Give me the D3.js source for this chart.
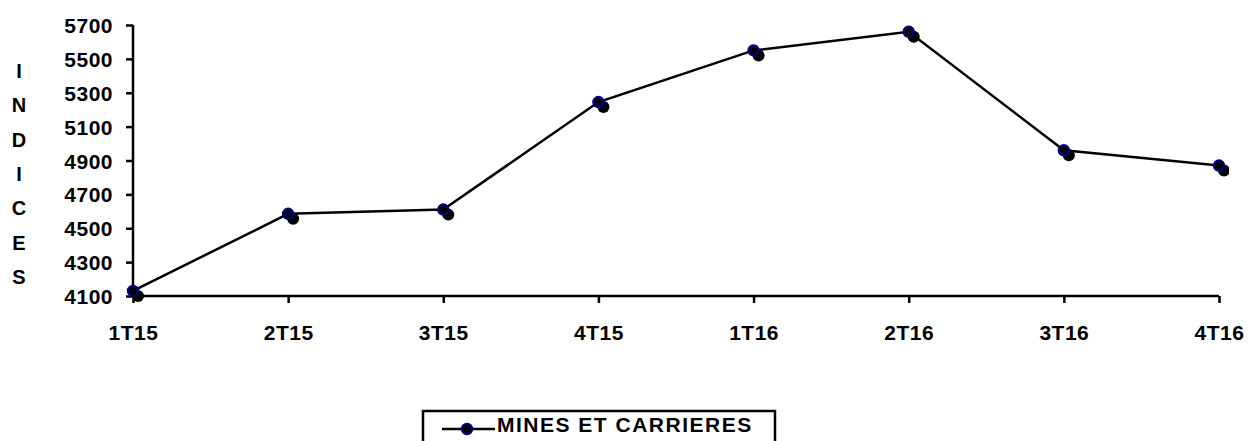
<!DOCTYPE html>
<html>
<head>
<meta charset="utf-8">
<script src="https://cdn.jsdelivr.net/npm/d3@7"></script>
<style>
  body { margin: 0; background: #fff; }
  text { font-family: "Liberation Sans", Arial, sans-serif; font-weight: bold; fill: #000; }
</style>
</head>
<body>
<svg id="chart" width="1250" height="441"></svg>
<script>
var quarters = ["1T15", "2T15", "3T15", "4T15", "1T16", "2T16", "3T16", "4T16"];
var indices = [4130, 4585, 4610, 5245, 5550, 5660, 4960, 4870];
var yTicks = [4100, 4300, 4500, 4700, 4900, 5100, 5300, 5500, 5700];
var yTitle = ["I", "N", "D", "I", "C", "E", "S"];
var seriesName = "MINES ET CARRIERES";

var svg = d3.select("#chart"),
    margin = {top: 25, right: 31, bottom: 145, left: 133},
    width = +svg.attr("width") - margin.left - margin.right,
    height = +svg.attr("height") - margin.top - margin.bottom;

var x = d3.scalePoint()
    .domain(quarters)
    .range([0, width]);

var y = d3.scaleLinear()
    .domain([4100, 5700])
    .range([height, 0]);

svg.append("defs").append("clipPath")
    .attr("id", "clip")
  .append("rect")
    .attr("x", -10).attr("y", -20)
    .attr("width", width + 20).attr("height", height + 40);

var g = svg.append("g")
    .attr("transform", "translate(" + margin.left + "," + margin.top + ")");

// axes
var xAxis = g.append("g")
    .attr("transform", "translate(0," + height + ")")
    .call(d3.axisBottom(x).tickSize(7).tickPadding(22));

var yAxis = g.append("g")
    .call(d3.axisLeft(y).tickValues(yTicks).tickFormat(d3.format("d")).tickSize(7).tickPadding(13));

[xAxis, yAxis].forEach(function(a) {
  a.selectAll("path, line").attr("stroke", "#000").attr("stroke-width", 2.5);
  a.selectAll("text").style("font-size", "21px").style("font-weight", "bold")
    .style("letter-spacing", "0.5px");
});
xAxis.select(".domain").attr("d", "M0,0H" + width);
yAxis.select(".domain").attr("d", "M0," + height + "V0");
yAxis.selectAll("text").attr("dy", "0.36em");

// vertical letters of axis title
svg.append("g").selectAll("text")
  .data(yTitle)
  .enter().append("text")
    .attr("x", 19)
    .attr("y", function(d, i) { return 78 + i * 34.3; })
    .attr("text-anchor", "middle")
    .style("font-size", "20px")
    .text(function(d) { return d; });

var line = d3.line()
    .x(function(d, i) { return x(quarters[i]); })
    .y(function(d) { return y(d); });

g.append("path")
    .datum(indices)
    .attr("fill", "none")
    .attr("stroke", "#000")
    .attr("stroke-width", 2.5)
    .attr("d", line);

var marks = g.append("g").attr("clip-path", "url(#clip)");

// shadow markers
marks.selectAll(".shadow")
  .data(indices)
  .enter().append("circle")
    .attr("class", "shadow")
    .attr("cx", function(d, i) { return x(quarters[i]) + 5; })
    .attr("cy", function(d) { return y(d) + 5; })
    .attr("r", 6)
    .attr("fill", "#000");

marks.selectAll(".dot")
  .data(indices)
  .enter().append("circle")
    .attr("class", "dot")
    .attr("cx", function(d, i) { return x(quarters[i]); })
    .attr("cy", function(d) { return y(d); })
    .attr("r", 5)
    .attr("fill", "#000")
    .attr("stroke", "#000080")
    .attr("stroke-width", 2.5);

// legend
var legend = svg.append("g").attr("transform", "translate(423,411)");
legend.append("rect")
    .attr("width", 352)
    .attr("height", 40)
    .attr("fill", "#fff")
    .attr("stroke", "#000")
    .attr("stroke-width", 2.5);
legend.append("line")
    .attr("x1", 19).attr("x2", 72)
    .attr("y1", 18).attr("y2", 18)
    .attr("stroke", "#000").attr("stroke-width", 2.5);
legend.append("circle")
    .attr("cx", 44).attr("cy", 18).attr("r", 5)
    .attr("fill", "#000").attr("stroke", "#000080").attr("stroke-width", 2.5);
legend.append("text")
    .attr("x", 74)
    .attr("y", 21)
    .style("font-size", "21px")
    .style("letter-spacing", "1.5px")
    .text(seriesName);
</script>
</body>
</html>
